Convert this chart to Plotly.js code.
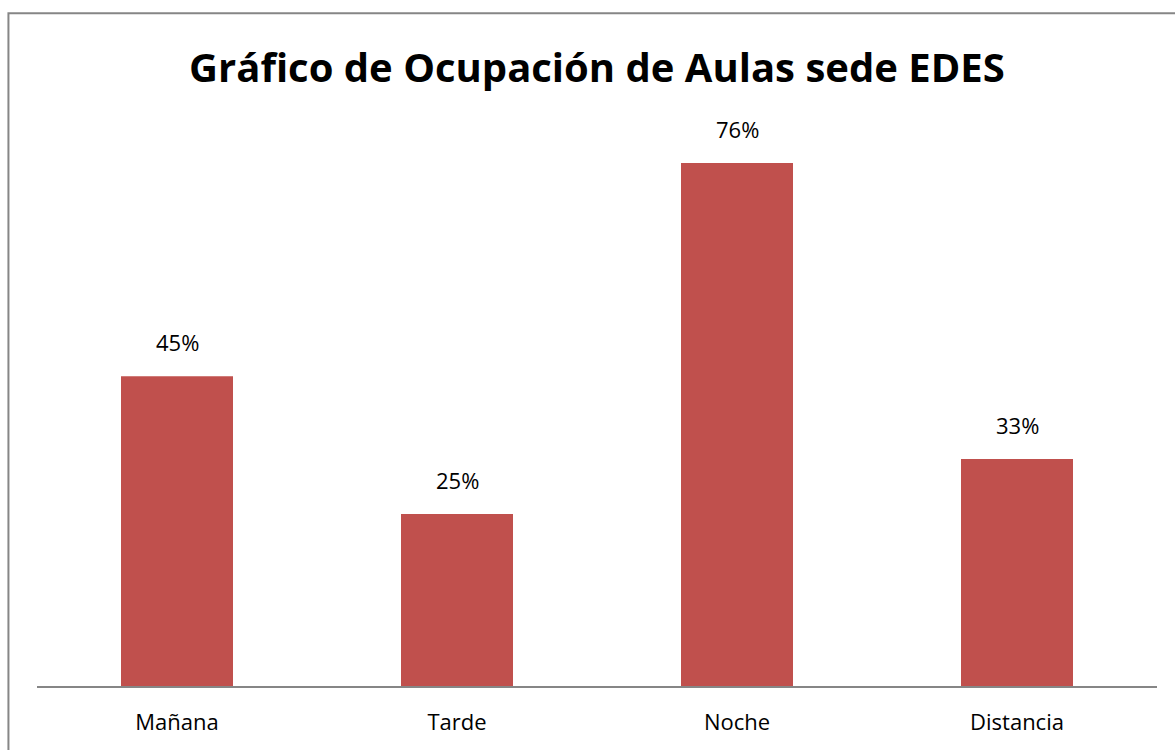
<!DOCTYPE html>
<html>
<head>
<meta charset="utf-8">
<script src="https://cdn.plot.ly/plotly-3.0.1.min.js"></script>
<style>html,body{margin:0;padding:0;background:#fff;}#chart{width:1175px;height:750px;}</style>
</head>
<body>
<div id="chart"></div>
<script>
var categories = ["Mañana", "Tarde", "Noche", "Distancia"];
var values = [0.45, 0.25, 0.76, 0.33];
var valueLabels = ["45%", "25%", "76%", "33%"];
var chartTitle = "Gráfico de Ocupación de Aulas sede EDES";

var FONT = "Open Sans, Lato, sans-serif";

var trace = {
  type: "bar",
  x: categories,
  y: values,
  marker: {color: "#C0504D"},
  hoverinfo: "x+y"
};

var annotations = categories.map(function(c, i) {
  return {
    x: c, y: values[i], xref: "x", yref: "y",
    text: valueLabels[i], showarrow: false,
    yanchor: "middle", yshift: 34,
    font: {family: FONT, size: 22, color: "#000"}
  };
});

var layout = {
  width: 1175, height: 750,
  margin: {l: 37, r: 18, t: 110, b: 64},
  paper_bgcolor: "#fff", plot_bgcolor: "#fff",
  showlegend: false,
  bargap: 0.6,
  title: {
    text: chartTitle,
    x: 0.508, xanchor: "center",
    y: 0.909, yanchor: "middle",
    font: {family: FONT, size: 40, color: "#000", weight: "bold"}
  },
  xaxis: {
    type: "category",
    showline: true, linecolor: "#868686", linewidth: 2,
    showgrid: false, zeroline: false, ticks: "",
    ticklabelstandoff: 16,
    tickfont: {family: FONT, size: 22, color: "#000"}
  },
  yaxis: {
    range: [0, 0.837], visible: false, showgrid: false, zeroline: false
  },
  annotations: annotations,
  shapes: [{
    type: "rect", xref: "paper", yref: "paper",
    x0: -0.0255, x1: 1.2, y0: -0.5, y1: 1.168,
    line: {color: "#868686", width: 2}, fillcolor: "rgba(0,0,0,0)", layer: "below"
  }]
};

Plotly.newPlot("chart", [trace], layout, {displayModeBar: false, staticPlot: true});
</script>
</body>
</html>
